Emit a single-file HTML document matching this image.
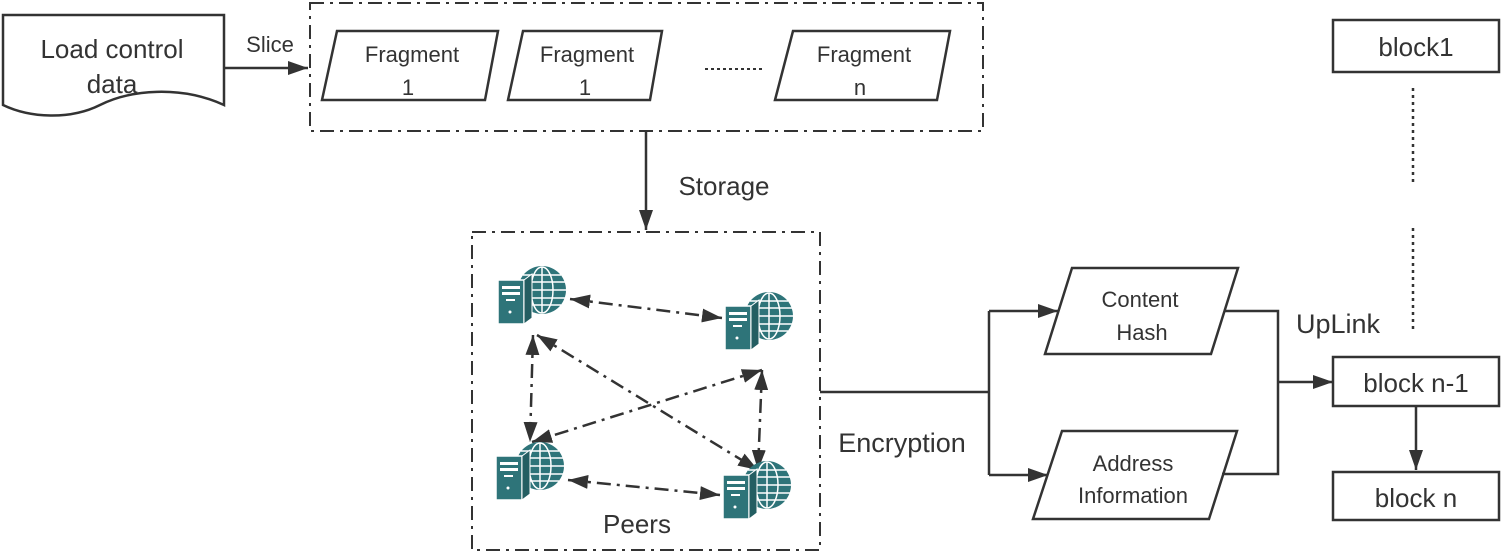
<!DOCTYPE html>
<html><head><style>body{margin:0;background:#fff}svg{display:block}text{font-family:"Liberation Sans",sans-serif;fill:#333}</style></head><body>
<svg width="1505" height="557" viewBox="0 0 1505 557">
<defs>
<marker id="b" viewBox="0 0 20 14" markerWidth="20" markerHeight="14" refX="20" refY="7" orient="auto-start-reverse" markerUnits="userSpaceOnUse"><path d="M0,0 L20,7 L0,14z" fill="#333"/></marker>
<g id="srv">
<circle cx="44" cy="28" r="24" fill="#2e7479"/>
<g stroke="#fff" stroke-width="1.5" fill="none"><ellipse cx="44" cy="28" rx="11" ry="23"/><line x1="44" y1="5" x2="44" y2="51"/><line x1="21" y1="20" x2="67" y2="20"/><line x1="20" y1="28" x2="68" y2="28"/><line x1="21" y1="36" x2="67" y2="36"/><line x1="25" y1="13" x2="63" y2="13"/><line x1="25" y1="43" x2="63" y2="43"/></g>
<rect x="0" y="18" width="26" height="44" fill="#2e7479" stroke="#fff" stroke-width="1.5"/>
<path d="M26,18 L34,12 L34,56 L26,62z" fill="#245e62" stroke="#fff" stroke-width="1"/>
<rect x="4" y="24" width="18" height="3" fill="#fff"/><rect x="4" y="30" width="18" height="3" fill="#fff"/><rect x="8" y="37" width="9" height="2" fill="#fff"/><circle cx="12" cy="50" r="1.5" fill="#fff"/>
</g>
</defs>
<g stroke="#333" stroke-width="2.5" fill="none">
<path d="M3,15 L224,15 L224,105 C180,85 130,90 100,105 C70,120 30,118 3,105 Z" fill="#fff"/>
<line x1="224" y1="68" x2="308" y2="68" marker-end="url(#b)"/>
<rect x="310" y="3" width="673" height="128" stroke-dasharray="14,6,3,6" stroke-width="2"/>
<path d="M337,31 L498,31 L485,100 L322,100Z"/>
<path d="M523,31 L662,31 L650,100 L508,100Z"/>
<path d="M793,31 L950,31 L937,100 L775,100Z"/>
<line x1="705" y1="69" x2="763" y2="69" stroke-dasharray="3,3" stroke-width="2"/>
<line x1="646" y1="131" x2="646" y2="230" marker-end="url(#b)"/>
<rect x="472" y="232" width="348" height="318" stroke-dasharray="14,6,3,6" stroke-width="2"/>
<g stroke-dasharray="14,6,3,6" stroke-width="2.5">
<line x1="570" y1="299" x2="722" y2="318" marker-start="url(#b)" marker-end="url(#b)"/>
<line x1="568" y1="480" x2="720" y2="495" marker-start="url(#b)" marker-end="url(#b)"/>
<line x1="533" y1="335" x2="530" y2="442" marker-start="url(#b)" marker-end="url(#b)"/>
<line x1="762" y1="370" x2="758" y2="470" marker-start="url(#b)" marker-end="url(#b)"/>
<line x1="537" y1="335" x2="758" y2="470" marker-start="url(#b)" marker-end="url(#b)"/>
<line x1="762" y1="370" x2="532" y2="442" marker-start="url(#b)" marker-end="url(#b)"/>
</g>
<path d="M820,392 L989,392"/>
<path d="M989,311 L989,475"/>
<line x1="989" y1="311" x2="1058" y2="311" marker-end="url(#b)"/>
<line x1="989" y1="475" x2="1048" y2="475" marker-end="url(#b)"/>
<path d="M1072,268 L1238,268 L1211,354 L1045,354Z"/>
<path d="M1062,431 L1237,431 L1209,519 L1033,519Z"/>
<path d="M1225,311 L1278,311 L1278,474 L1222,474"/>
<line x1="1278" y1="382" x2="1333" y2="382" marker-end="url(#b)"/>
<rect x="1333" y="20" width="166" height="52"/>
<rect x="1333" y="357" width="166" height="49"/>
<rect x="1333" y="472" width="166" height="48"/>
<line x1="1416" y1="406" x2="1416" y2="470" marker-end="url(#b)"/>
<line x1="1413" y1="88" x2="1413" y2="185" stroke-dasharray="3,4" stroke-width="2.5"/>
<line x1="1413" y1="228" x2="1413" y2="330" stroke-dasharray="3,4" stroke-width="2.5"/>
</g>
<use href="#srv" x="498" y="262"/>
<use href="#srv" x="725" y="288"/>
<use href="#srv" x="496" y="438"/>
<use href="#srv" x="723" y="457"/>
<g font-size="26" text-anchor="middle">
<text x="112" y="58">Load control</text><text x="112" y="93">data</text>
<text x="270" y="52" font-size="22">Slice</text>
<text x="412" y="62" font-size="22">Fragment</text><text x="408" y="95" font-size="22">1</text>
<text x="587" y="62" font-size="22">Fragment</text><text x="585" y="95" font-size="22">1</text>
<text x="864" y="62" font-size="22">Fragment</text><text x="860" y="95" font-size="22">n</text>
<text x="724" y="195">Storage</text>
<text x="637" y="533">Peers</text>
<text x="902" y="452" font-size="27">Encryption</text>
<text x="1140" y="307" font-size="22">Content</text><text x="1142" y="340" font-size="22">Hash</text>
<text x="1133" y="471" font-size="22">Address</text><text x="1133" y="503" font-size="22">Information</text>
<text x="1338" y="333" font-size="27">UpLink</text>
<text x="1416" y="56">block1</text>
<text x="1416" y="392">block n-1</text>
<text x="1416" y="507">block n</text>
</g>
</svg>
</body></html>
